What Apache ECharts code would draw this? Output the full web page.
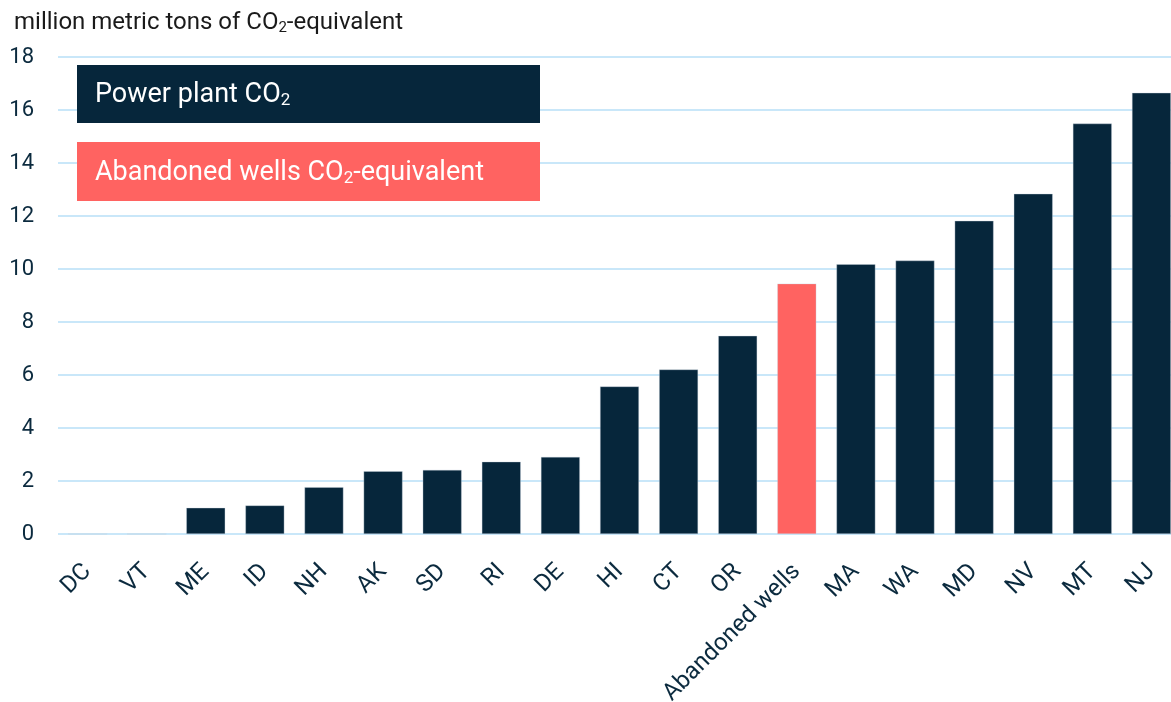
<!DOCTYPE html>
<html>
<head>
<meta charset="utf-8">
<script src="https://cdn.jsdelivr.net/npm/echarts@6/dist/echarts.min.js"></script>
<style>
  html, body { margin: 0; padding: 0; background: #ffffff; }
  #chart { width: 1171px; height: 702px; }
</style>
</head>
<body>
<div id="chart"></div>
<script>
// States (plus the abandoned-wells comparison) ordered by emissions
const categories = ['DC', 'VT', 'ME', 'ID', 'NH', 'AK', 'SD', 'RI', 'DE', 'HI', 'CT', 'OR',
  'Abandoned wells', 'MA', 'WA', 'MD', 'NV', 'MT', 'NJ'];

// million metric tons of CO2-equivalent
const emissions = [0, 0, 0.99, 1.08, 1.77, 2.37, 2.42, 2.73, 2.91, 5.57, 6.21, 7.48,
  9.45, 10.18, 10.32, 11.82, 12.84, 15.49, 16.65];

const highlightCategory = 'Abandoned wells';
const yTicks = { min: 0, max: 18, interval: 2 };

const NAVY = '#06263b';
const CORAL = '#ff6361';
const GRID = '#c9e7f9';
const LABEL = '#0b2a3e';
const FONT = 'Roboto, "Noto Sans", sans-serif';

const chart = echarts.init(document.getElementById('chart'), null, { renderer: 'canvas' });

const barData = categories.map((c, i) => ({
  value: emissions[i],
  itemStyle: { color: c === highlightCategory ? CORAL : NAVY }
}));

function legendText(x, y, text) {
  return {
    type: 'text',
    x: x, y: y,
    z: 101,
    style: {
      text: text,
      fill: '#ffffff',
      font: '27px ' + FONT,
      verticalAlign: 'middle',
      rich: { sub: { fontSize: 17, fontFamily: FONT, fill: '#ffffff', padding: [12, 0, 0, 0] } }
    }
  };
}

chart.setOption({
  animation: false,
  backgroundColor: '#ffffff',
  textStyle: { fontFamily: FONT },
  title: {
    text: 'million metric tons of CO{sub|2}-equivalent',
    left: 9,
    top: 5,
    textStyle: {
      fontFamily: FONT,
      fontSize: 24,
      fontWeight: 'normal',
      color: '#1a1a1a',
      rich: {
        sub: { fontSize: 15, fontFamily: FONT, color: '#1a1a1a', padding: [11, 0, 0, 0] }
      }
    }
  },
  grid: {
    left: 58, right: -10, top: 57, bottom: 168,
    containLabel: false,
    outerBoundsMode: 'none'
  },
  xAxis: {
    type: 'category',
    data: categories,
    axisLine: { show: false },
    axisTick: { show: false },
    axisLabel: {
      rotate: 45,
      interval: 0,
      margin: 34,
      fontSize: 24,
      color: LABEL,
      fontFamily: FONT
    }
  },
  yAxis: {
    type: 'value',
    min: yTicks.min,
    max: yTicks.max,
    interval: yTicks.interval,
    axisLine: { show: false },
    axisTick: { show: false },
    axisLabel: { fontSize: 22, color: LABEL, margin: 24, fontFamily: FONT },
    splitLine: { lineStyle: { color: GRID, width: 2 } }
  },
  series: [{
    type: 'bar',
    data: barData,
    barWidth: '66%',
    itemStyle: { borderColor: 'rgba(200,210,220,0.6)', borderWidth: 0.6 }
  }],
  graphic: [
    { type: 'rect', z: 100, shape: { x: 77, y: 65, width: 463, height: 58 }, style: { fill: NAVY } },
    legendText(95, 95, 'Power plant CO{sub|2}'),
    { type: 'rect', z: 100, shape: { x: 77, y: 142, width: 463, height: 59 }, style: { fill: CORAL } },
    legendText(95, 173, 'Abandoned wells CO{sub|2}-equivalent')
  ]
});
</script>
</body>
</html>
